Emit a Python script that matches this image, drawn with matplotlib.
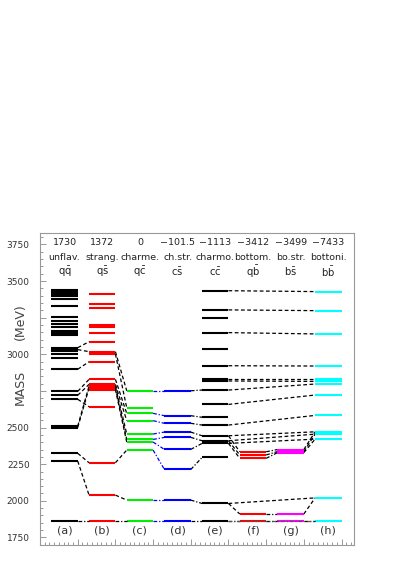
import matplotlib
matplotlib.use('Agg')
import matplotlib.pyplot as plt
import numpy as np

plt.rcParams['mathtext.fontset'] = 'dejavusans'

# column headers
shifts = ['1730', '1372', '0', '\u2212101.5', '\u22121113', '\u22123412', '\u22123499', '\u22127433']
names = ['unflav.', 'strang.', 'charme.', 'ch.str.', 'charmo.', 'bottom.', 'bo.str.', 'bottoni.']
quarks = [r'$\mathrm{q\bar{q}}$', r'$\mathrm{q\bar{s}}$', r'$\mathrm{q\bar{c}}$', r'$\mathrm{c\bar{s}}$',
          r'$\mathrm{c\bar{c}}$', r'$\mathrm{q\bar{b}}$', r'$\mathrm{b\bar{s}}$', r'$\mathrm{b\bar{b}}$']
tags = ['(a)', '(b)', '(c)', '(d)', '(e)', '(f)', '(g)', '(h)']
colors = ['black', 'red', '#00ee00', 'blue', 'black', 'red', 'magenta', 'cyan']
ytick_vals = [1750, 2000, 2250, 2500, 2750, 3000, 3250, 3500, 3750]
ytick_text = ['1750', '2000', '2250', '2500', '', '3000', '', '3500', '3750']

# shifted levels (MeV) per column
lev_a = [3440, 3430, 3420, 3410, 3400, 3376, 3330, 3253, 3230, 3207, 3184, 3160, 3150, 3140, 3130,
         3045, 3032, 3020, 3000, 2975, 2898, 2747, 2720, 2693, 2510, 2500, 2324, 2271, 1865]
lev_b = [3412, 3344, 3314, 3200, 3184, 3143, 3086, 3018, 3002, 2949, 2829, 2795, 2783, 2771, 2759,
         2642, 2260, 2039, 1865]
lev_c = [2751, 2635, 2597, 2547, 2456, 2419, 2401, 2346, 2005, 1865]
lev_d = [2751, 2581, 2529, 2469, 2433, 2351, 2214, 2005, 1865]
lev_e = [3434, 3303, 3246, 3148, 3036, 2922, 2829, 2818, 2756, 2658, 2570, 2517, 2444, 2410, 2392,
         2296, 1982, 1865]
lev_f = [2335, 2313, 2290, 1910, 1865]
lev_g = [2350, 2343, 2336, 2329, 1910, 1865]
lev_h = [3428, 3298, 3139, 2920, 2829, 2815, 2797, 2722, 2583, 2471, 2455, 2421, 2020, 1865]
levels = [lev_a, lev_b, lev_c, lev_d, lev_e, lev_f, lev_g, lev_h]

# connections (from level, to level)
con_ab = [(3045, 3086), (3032, 3018), (2898, 2949), (2747, 2829), (2720, 2795), (2693, 2642),
          (2510, 2783), (2500, 2771), (2324, 2260), (2271, 2039)]
con_bc = [(3018, 2751), (3002, 2635), (2829, 2597), (2795, 2547), (2783, 2456), (2771, 2419),
          (2759, 2401), (2260, 2346), (2039, 2005)]
con_cd = [(2751, 2751), (2597, 2581), (2547, 2529), (2456, 2469), (2419, 2433), (2401, 2351),
          (2346, 2214), (2005, 2005)]
con_de = [(2751, 2756), (2581, 2570), (2529, 2517), (2469, 2444), (2433, 2410), (2351, 2392),
          (2214, 2296), (2005, 1982)]
con_eh = [(3434, 3428), (3303, 3298), (3148, 3139), (2922, 2920), (2829, 2829), (2818, 2815),
          (2756, 2797), (2658, 2722), (2517, 2583), (2444, 2471), (2410, 2455), (2392, 2421),
          (1982, 2020)]
con_ef = [(2444, 2335), (2410, 2313), (2392, 2290), (1982, 1910)]
con_fg = [(2335, 2350), (2313, 2336), (2290, 2329), (1910, 1910)]
con_gh = [(2350, 2471), (2336, 2455), (2329, 2421), (1910, 2020)]
ground = 1865

fig = plt.figure(figsize=(4.13, 5.85), dpi=100)
ax = fig.add_axes([0.097, 0.068, 0.76, 0.534])

dash = (0, (3, 2))
dashdot = (0, (3, 1.5, 1, 1.5))

def connect(pairs, i0, i1, color='black', ls=dash):
    for y0, y1 in pairs:
        ax.plot([i0 + 1.0, i1 + 0.3], [y0, y1], color=color, lw=0.9, ls=ls)

connect(con_ab, 0, 1)
connect(con_bc, 1, 2)
connect(con_cd, 2, 3, color='blue', ls=dashdot)
connect(con_de, 3, 4, ls=dashdot)
connect(con_eh, 4, 7)
connect(con_ef, 4, 5)
connect(con_fg, 5, 6, ls=dashdot)
connect(con_gh, 6, 7)

for i, lv in enumerate(levels):
    ax.hlines(lv, i + 0.3, i + 1.0, color=colors[i], lw=1.5)

# ground state line across all columns
for i in range(7):
    c = 'blue' if i == 2 else 'black'
    ax.plot([i + 1.0, i + 1.3], [ground, ground], color=c, lw=0.9, ls=dashdot)
ax.plot([5.0, 7.3], [ground, ground], color='#555555', lw=0.9, ls=dashdot)

for i in range(8):
    x = i + 0.65
    ax.text(x, 3765, shifts[i], ha='center', va='center', fontsize=6.8, color='#222222')
    ax.text(x, 3663, names[i], ha='center', va='center', fontsize=6.8, color='#222222')
    ax.text(x, 3560, quarks[i], ha='center', va='center', fontsize=7.2, color='#222222')
    ax.text(x, 1796, tags[i], ha='center', va='center', fontsize=8, color='#333333')

ax.set_xlim(0, 8.33)
ax.set_ylim(1697, 3829)
ax.set_yticks(ytick_vals)
ax.set_yticklabels(ytick_text)
ax.set_yticks(np.arange(1700, 3801, 50), minor=True)
ax.set_xticks(np.arange(1, 9))
ax.set_xticks(np.arange(0, 8.33, 0.125), minor=True)
ax.set_xticklabels([])
ax.tick_params(axis='both', which='major', direction='in', length=4, width=0.6,
               color='#888888', labelsize=6.5, labelcolor='#333333', pad=7.5)
ax.tick_params(axis='both', which='minor', direction='in', length=2, width=0.6, color='#888888')
ax.tick_params(top=False, right=False, which='both')
for s in ax.spines.values():
    s.set_color('#999999')
    s.set_linewidth(0.8)

fig.text(0.05, 0.337, 'MASS', rotation=90, ha='center', va='center', fontsize=9, color='#444444')
fig.text(0.05, 0.45, '(MeV)', rotation=90, ha='center', va='center', fontsize=9, color='#444444')

fig.savefig('out.png', dpi=100)
